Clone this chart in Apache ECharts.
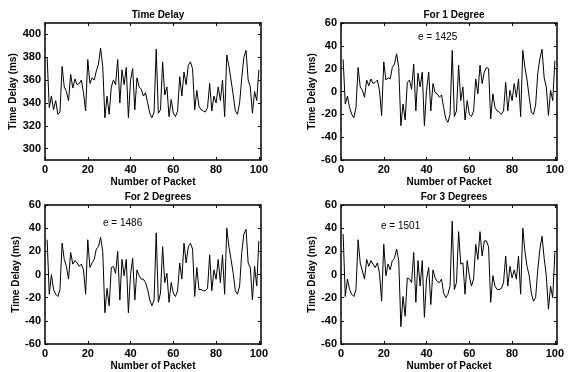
<!DOCTYPE html>
<html>
<head>
<meta charset="utf-8">
<script src="https://cdn.jsdelivr.net/npm/echarts@6/dist/echarts.min.js"></script>
<style>
  html, body {margin: 0; padding: 0; background: #fff;}
  #chart {width: 573px; height: 372px;}
</style>
</head>
<body>
<div id="chart"></div>
<script>
// values, packet 1..100
const delay = [380, 336, 346, 334, 342, 330, 332, 372, 354, 350,
  342, 365, 353, 361, 356, 357, 360, 349, 333, 378,
  357, 362, 360, 368, 374, 388, 372, 327, 346, 330,
  354, 360, 356, 378, 340, 369, 356, 371, 327, 360,
  370, 334, 362, 354, 352, 346, 349, 340, 331, 327,
  332, 387, 331, 334, 376, 347, 354, 328, 343, 331,
  328, 333, 363, 346, 367, 356, 373, 376, 370, 334,
  351, 337, 334, 333, 332, 336, 357, 333, 346, 340,
  354, 342, 360, 328, 382, 372, 360, 347, 333, 330,
  340, 362, 380, 386, 360, 354, 331, 350, 342, 369]

const deg1 = [28, -11, -4, -14, -20, -23, -14, 21, 4, 1,
  -5, 10, 5, 11, 7, 8, 10, 1, -21, 26,
  10, 12, 11, 21, 24, 33, 21, -30, -11, -25,
  8, 10, 2, 24, -17, 16, 4, 17, -30, 1,
  17, -17, 7, -1, -2, -5, -3, -14, -24, -27,
  -20, 36, -22, -17, 23, -8, 4, -25, -8, -20,
  -22, -17, 11, -2, 23, 7, 17, 21, 20, -24,
  -2, -14, -17, -18, -20, -17, 8, -17, 1, -8,
  7, -5, 11, -22, 36, 21, 10, -5, -18, -20,
  -12, 16, 29, 37, 12, 4, -21, 1, -8, 27]

const deg2 = [30, -17, 0, -13, -17, -19, -13, 27, 13, 7,
  -4, 19, 9, 12, 10, 7, 9, 4, -17, 30,
  6, 10, 13, 22, 24, 32, 20, -33, -12, -27,
  6, 7, 1, 20, -22, 13, -1, 13, -33, 0,
  14, -22, 4, -1, -4, -4, -7, -13, -22, -27,
  -22, 36, -24, -16, 24, -7, 1, -24, -7, -16,
  -19, -14, 10, -4, 27, 10, 24, 27, 22, -19,
  6, -13, -13, -14, -14, -12, 17, -14, 4, -4,
  13, -7, 17, -17, 40, 24, 13, 1, -14, -17,
  -10, 19, 35, 39, 10, 6, -22, 7, -10, 29]

const deg3 = [35, -19, -4, -13, -17, -19, -13, 30, 10, 3,
  -4, 13, 7, 12, 9, 6, 10, 1, -23, 26,
  -1, 9, 4, 12, 14, 22, 12, -45, -19, -36,
  -3, -4, -7, 19, -24, 12, -10, 12, -37, -4,
  6, -26, 4, -3, -6, -7, -4, -16, -20, -17,
  -10, 46, -13, -7, 37, 9, 10, -17, 12, -1,
  -10, -4, 26, 13, 37, 16, 29, 29, 24, -24,
  -1, -10, -13, -13, -12, -7, 16, -10, 7, -3,
  4, -4, 16, -17, 40, 20, 7, -1, -16, -23,
  -20, 4, 22, 33, 14, -1, -30, -10, -20, 19]

const packets = delay.map((_, i) => i + 1)
const xTicks = [0, 20, 40, 60, 80, 100]
const delayTicks = [300, 320, 340, 360, 380, 400]
const errTicks = [-60, -40, -20, 0, 20, 40, 60]

const titles = ['Time Delay', 'For 1 Degree', 'For 2 Degrees', 'For 3 Degrees']
const notes = ['', 'e = 1425', 'e = 1486', 'e = 1501']

const font = 'Liberation Sans, Arial, sans-serif'
const grids = [
  {left: 45, top: 23, width: 216, height: 137},
  {left: 341, top: 23, width: 216, height: 137},
  {left: 45, top: 205, width: 216, height: 139},
  {left: 341, top: 205, width: 216, height: 139},
]
const yRanges = [[290, 410, delayTicks], [-60, 60, errTicks], [-60, 60, errTicks], [-60, 60, errTicks]]
const seriesData = [delay, deg1, deg2, deg3]
const notePos = [null, [418, 32], [103, 218], [381, 221]]

const chart = echarts.init(document.getElementById('chart'))

const line = {show: true, onZero: false, lineStyle: {color: '#000', width: 1.5}}
const tick = (vals) => ({show: true, inside: true, length: 3, customValues: vals,
  lineStyle: {color: '#000', width: 1}})
const labelStyle = {fontFamily: font, fontWeight: 'bold', fontSize: 11, color: '#000'}
const nameStyle = {fontFamily: font, fontWeight: 'bold', fontSize: 10, color: '#000'}

const xAxes = [], yAxes = []
grids.forEach((g, k) => {
  const [lo, hi, yt] = yRanges[k]
  xAxes.push({
    gridIndex: k, type: 'value', min: 0, max: 101, position: 'bottom',
    name: 'Number of Packet', nameLocation: 'middle', nameGap: 17, nameTextStyle: nameStyle,
    axisLine: line, axisTick: tick(xTicks),
    axisLabel: {customValues: xTicks, margin: 4, ...labelStyle},
    splitLine: {show: false}
  })
  xAxes.push({
    gridIndex: k, type: 'value', min: 0, max: 101, position: 'top',
    axisLine: line, axisTick: tick(xTicks), axisLabel: {show: false}, splitLine: {show: false}
  })
  yAxes.push({
    gridIndex: k, type: 'value', min: lo, max: hi, position: 'left',
    name: 'Time Delay (ms)', nameLocation: 'middle', nameGap: 20, nameTextStyle: nameStyle,
    axisLine: line, axisTick: tick(yt),
    axisLabel: {customValues: yt, margin: 4, ...labelStyle},
    splitLine: {show: false}
  })
  yAxes.push({
    gridIndex: k, type: 'value', min: lo, max: hi, position: 'right',
    axisLine: line, axisTick: tick(yt), axisLabel: {show: false}, splitLine: {show: false}
  })
})

chart.setOption({
  animation: false,
  backgroundColor: '#fff',
  grid: grids,
  title: titles.map((t, k) => ({
    text: t,
    left: grids[k].left + grids[k].width / 2, top: grids[k].top - 18,
    textAlign: 'center',
    textStyle: nameStyle
  })),
  graphic: notes.map((n, k) => n ? {
    type: 'text', left: notePos[k][0], top: notePos[k][1],
    style: {text: n, font: '10px ' + font, fill: '#000'}
  } : null).filter(Boolean),
  xAxis: xAxes,
  yAxis: yAxes,
  series: seriesData.map((vals, k) => ({
    type: 'line',
    xAxisIndex: k * 2,
    yAxisIndex: k * 2,
    data: vals.map((v, i) => [packets[i], v]),
    showSymbol: false,
    lineStyle: {color: '#000', width: 1}
  }))
})
</script>
</body>
</html>
